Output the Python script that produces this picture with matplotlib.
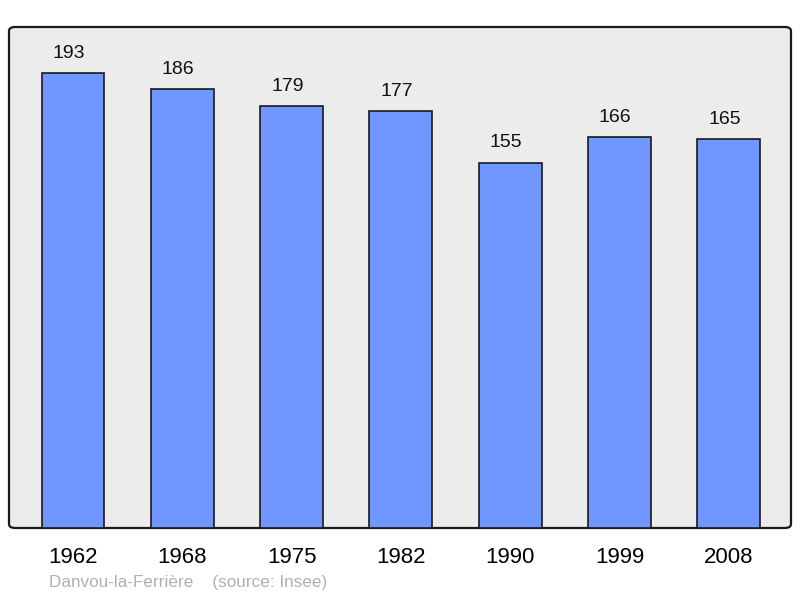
import matplotlib
matplotlib.use("Agg")
from matplotlib import pyplot as plt
from matplotlib.patches import FancyBboxPatch
import numpy as np

years = ["1962", "1968", "1975", "1982", "1990", "1999", "2008"]
population = [193, 186, 179, 177, 155, 166, 165]
commune = "Danvou-la-Ferrière"
source = "(source: Insee)"

plt.rcParams["font.family"] = ["Liberation Sans", "DejaVu Sans"]

fig = plt.figure(figsize=(8, 5.98), dpi=100)
ax = fig.add_axes([9 / 800, 70 / 598, 782 / 800, 501 / 598])
ax.patch.set_visible(False)
for s in ax.spines.values():
    s.set_visible(False)

# rounded grey frame behind the bars
frame = FancyBboxPatch((0, 0), 1, 1, boxstyle="round,pad=0,rounding_size=0.008",
                       transform=ax.transAxes, facecolor="#ececec", edgecolor="#1a1a1a",
                       linewidth=1.6, zorder=0, clip_on=False)
ax.add_patch(frame)

xs = np.arange(len(years))
bars = ax.bar(xs, population, width=0.575, color="#7096ff", edgecolor="#1a1a1a",
              linewidth=1.2, zorder=2)

# value labels sit a little left of bar centre, as in the original
for x, v in zip(xs, population):
    ax.annotate(str(v), (x, v), xytext=(-3, 8), textcoords="offset points",
                ha="center", va="bottom", fontsize=14, color="#111111")

ax.set_xlim(-0.585, len(years) - 1 + 0.57)
ax.set_ylim(0, 212.5)
ax.set_yticks([])
ax.set_xticks(xs)
ax.set_xticklabels(years, fontsize=16)
ax.tick_params(axis="x", length=0, pad=14)

fig.text(49 / 800, 1 - 583 / 598, commune + "    " + source, fontsize=12.3,
         color="#b0b0b0", ha="left", va="center")

fig.savefig("out.png", dpi=100)
